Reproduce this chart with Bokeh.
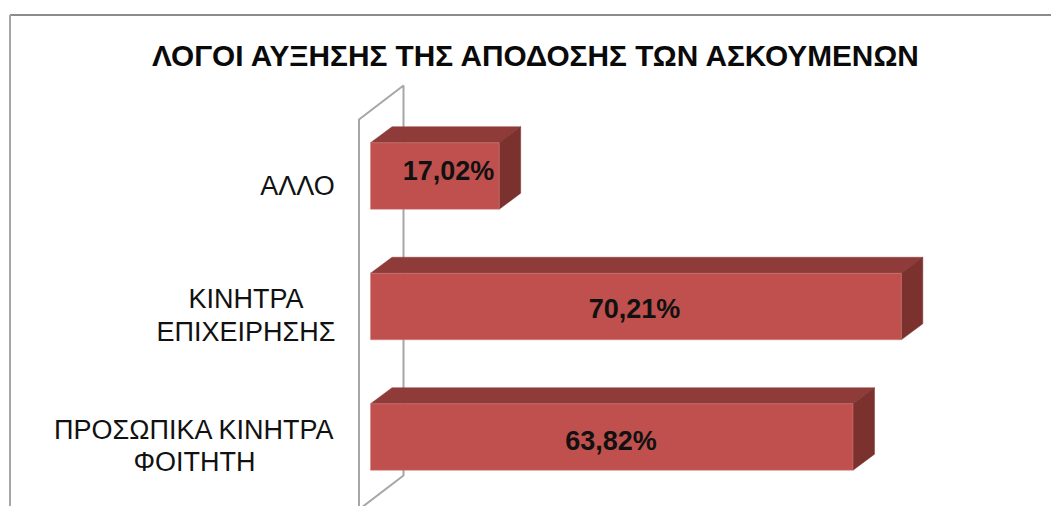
from bokeh.embed import file_html
from bokeh.resources import INLINE
from bokeh.plotting import figure
from bokeh.models import Range1d, ColumnDataSource
from bokeh.core.properties import value

title = "ΛΟΓΟΙ ΑΥΞΗΣΗΣ ΤΗΣ ΑΠΟΔΟΣΗΣ ΤΩΝ ΑΣΚΟΥΜΕΝΩΝ"
categories = ["ΠΡΟΣΩΠΙΚΑ ΚΙΝΗΤΡΑ\nΦΟΙΤΗΤΗ", "ΚΙΝΗΤΡΑ\nΕΠΙΧΕΙΡΗΣΗΣ", "ΑΛΛΟ"]
values = [63.82, 70.21, 17.02]

W, H = 1051, 506
PAGE = 0
X0 = 370          # page x of the value 0
SX = 7.56         # pixels per percent
Y_BOTTOM_BAR = 436.5
SY = 130.5        # pixels per category step
BAR_PX = 66.5
DX, DY = 21.5, 16  # 3-D depth in pixels

FRONT, TOP, SIDE = "#c0504d", "#8e3b39", "#7b312e"
WALL = "#a6a6a6"


def vx(px):
    return (px - X0) / SX


def vy(py):
    return (Y_BOTTOM_BAR - py) / SY


p = figure(width=W, height=H, output_backend="svg", toolbar_location=None,
           x_range=Range1d(vx(PAGE), vx(PAGE + W)),
           y_range=Range1d(vy(PAGE + H), vy(PAGE)),
           min_border=0, outline_line_color=None, background_fill_color="white",
           border_fill_color="white")
p.axis.visible = False
p.grid.visible = False

# outer chart frame
p.line([vx(9.5), vx(PAGE + W)], [vy(14.5), vy(14.5)], line_color="#8c8c8c", line_width=2)
p.line([vx(9.5), vx(9.5)], [vy(14.5), vy(PAGE + H)], line_color=WALL, line_width=2)

# back wall of the 3-D plot
p.line([vx(358.5), vx(358.5), vx(403), vx(403), vx(358.5)],
       [vy(PAGE + H), vy(119), vy(85), vy(475), vy(509)],
       line_color=WALL, line_width=2)

ys = list(range(len(values)))
hh = BAR_PX / SY / 2
ddx, ddy = DX / SX, DY / SY

for y, v in zip(ys, values):
    p.patch([0, ddx, v + ddx, v], [y + hh, y + hh + ddy, y + hh + ddy, y + hh],
            fill_color=TOP, line_color=TOP, line_width=0.5)
    p.patch([v, v + ddx, v + ddx, v], [y + hh, y + hh + ddy, y - hh + ddy, y - hh],
            fill_color=SIDE, line_color=SIDE, line_width=0.5)

src = ColumnDataSource(dict(
    y=ys, v=values,
    cat=categories,
    lab=[f"{v:.2f}".replace(".", ",") + "%" for v in values],
    cat_x=[vx(194), vx(245.5), vx(297)],
    lab_x=[vx(610.5), vx(634), vx(448)],
    lab_dy=[3.5, 2, -5],
    cat_dy=[9, 9, 9.5],
))
p.hbar(y="y", right="v", left=0, height=BAR_PX / SY, source=src,
       fill_color=FRONT, line_color="#d27e7b", line_width=0.5)

p.text(x="lab_x", y="y", text="lab", y_offset="lab_dy", source=src,
       text_font=value("Liberation Sans"), text_font_style="bold",
       text_font_size="27px", text_align="center", text_baseline="middle",
       text_color="#111111")
p.text(x="cat_x", y="y", text="cat", y_offset="cat_dy", source=src,
       text_font=value("Liberation Sans"), text_font_size="27px",
       text_align="center", text_baseline="middle", text_color="#111111",
       text_line_height=1.08)

p.text(x=[vx(536.5)], y=[vy(55)], text=[title],
       text_font=value("Liberation Sans"), text_font_style="bold",
       text_font_size="29.8px", text_align="center", text_baseline="middle",
       text_color="#0a0a0a")

open("out.html", "w").write(file_html(p, INLINE))
